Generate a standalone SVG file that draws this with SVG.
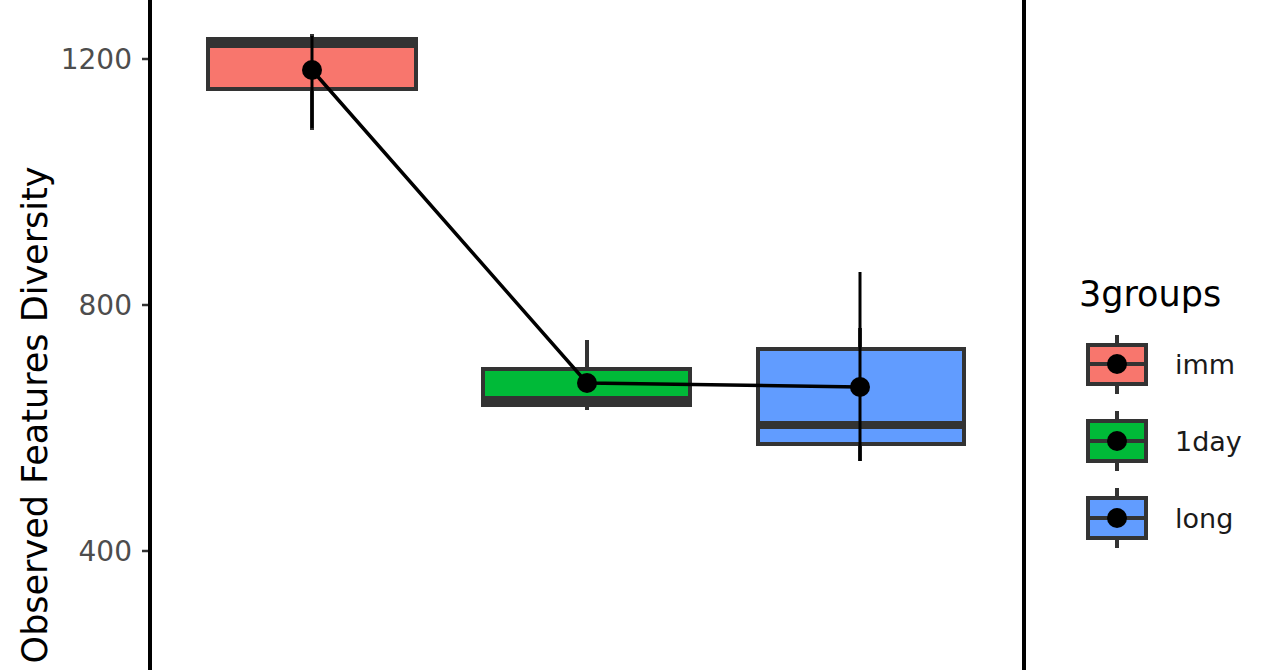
<svg xmlns="http://www.w3.org/2000/svg" width="1280" height="670" viewBox="0 0 1280 670">
<style>
.box{stroke:#333;stroke-width:4}
.med{stroke:#333;stroke-width:8}
.wh{stroke:#333;stroke-width:4}
.err{stroke:#000;stroke-width:3}
.tick{font-family:"DejaVu Sans",sans-serif;font-size:28px;fill:#4d4d4d}
.lab{font-family:"DejaVu Sans",sans-serif;font-size:35px;fill:#000}
.leg{font-family:"DejaVu Sans",sans-serif;font-size:27px;fill:#1a1a1a}
</style>
<rect width="1280" height="670" fill="#fff"/>
<g id="axis">
<line x1="142" y1="59" x2="150" y2="59" stroke="#333" stroke-width="2.5"/>
<line x1="142" y1="305" x2="150" y2="305" stroke="#333" stroke-width="2.5"/>
<line x1="142" y1="551" x2="150" y2="551" stroke="#333" stroke-width="2.5"/>
<text class="tick" x="132" y="69" text-anchor="end">1200</text>
<text class="tick" x="132" y="315" text-anchor="end">800</text>
<text class="tick" x="132" y="561" text-anchor="end">400</text>
<text class="lab" transform="translate(47,415) rotate(-90)" text-anchor="middle">Observed Features Diversity</text>
</g>
<g id="imm">
<line class="wh" x1="312" y1="34" x2="312" y2="130"/>
<rect class="box" x="208" y="39" width="208" height="50" fill="#F8766D"/>
<line class="med" x1="208" y1="44" x2="416" y2="44"/>
<line class="err" x1="312" y1="36" x2="312" y2="128"/>
</g>
<g id="day1">
<line class="wh" x1="587" y1="340" x2="587" y2="410"/>
<rect class="box" x="483" y="369" width="207" height="36" fill="#00BA38"/>
<line class="med" x1="483" y1="400" x2="690" y2="400"/>
</g>
<g id="long">
<line class="wh" x1="860" y1="328" x2="860" y2="461"/>
<rect class="box" x="758" y="349" width="206" height="95" fill="#619CFF"/>
<line class="med" x1="758" y1="425" x2="964" y2="425"/>
<line class="err" x1="860" y1="272" x2="860" y2="461"/>
</g>
<g id="connectors">
<polyline points="312,70 587,383 860,387" fill="none" stroke="#000" stroke-width="3.5"/>
<circle cx="312" cy="70" r="10"/>
<circle cx="587" cy="383" r="10"/>
<circle cx="860" cy="387" r="10"/>
</g>
<rect id="panel" x="150" y="-5" width="874" height="690" fill="none" stroke="#000" stroke-width="4"/>
<g id="legend">
<text class="lab" x="1079" y="306">3groups</text>
<g id="leg-imm">
<line class="wh" x1="1117" y1="335" x2="1117" y2="394"/>
<rect class="box" x="1088" y="345" width="58" height="39" fill="#F8766D"/>
<line class="wh" x1="1088" y1="364" x2="1146" y2="364"/>
<circle cx="1117" cy="364" r="10"/>
<text class="leg" x="1175" y="374">imm</text>
</g>
<g id="leg-1day">
<line class="wh" x1="1117" y1="411" x2="1117" y2="471"/>
<rect class="box" x="1088" y="421" width="58" height="40" fill="#00BA38"/>
<line class="wh" x1="1088" y1="441" x2="1146" y2="441"/>
<circle cx="1117" cy="441" r="10"/>
<text class="leg" x="1175" y="451">1day</text>
</g>
<g id="leg-long">
<line class="wh" x1="1117" y1="488" x2="1117" y2="548"/>
<rect class="box" x="1088" y="498" width="58" height="40" fill="#619CFF"/>
<line class="wh" x1="1088" y1="518" x2="1146" y2="518"/>
<circle cx="1117" cy="518" r="10"/>
<text class="leg" x="1175" y="528">long</text>
</g>
</g>
</svg>
